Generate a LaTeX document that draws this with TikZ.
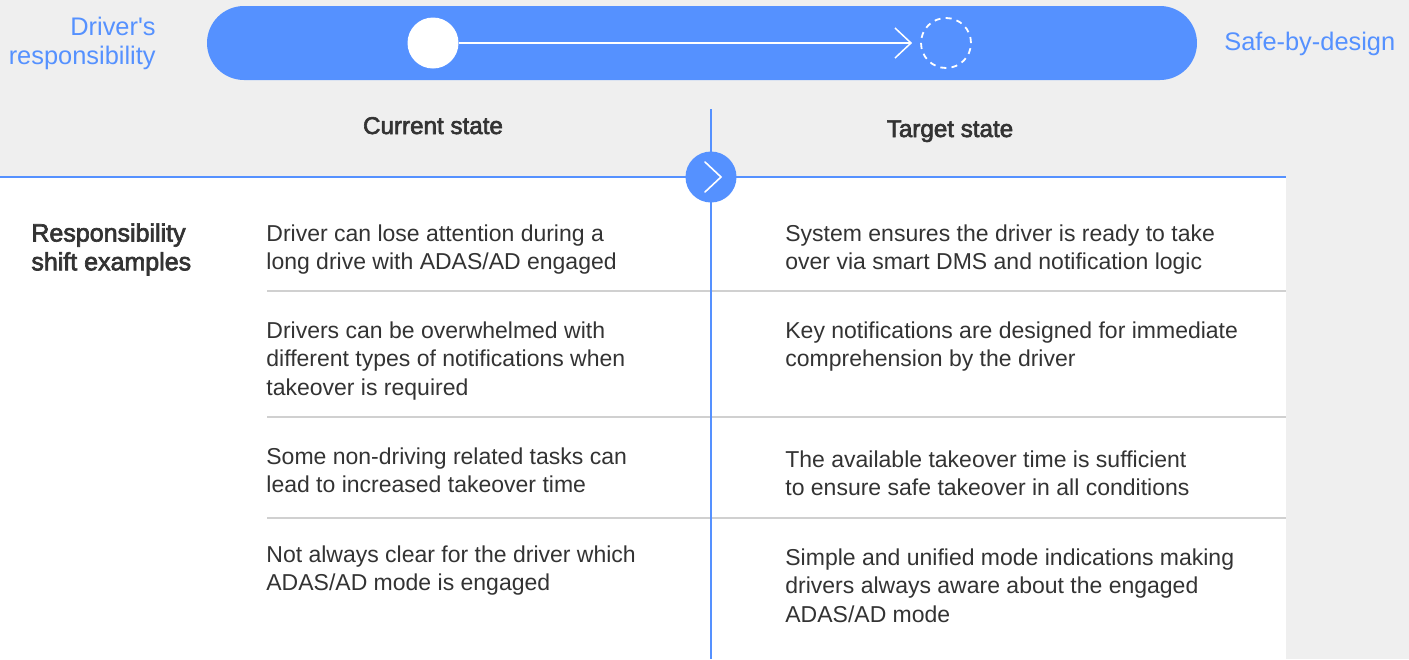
\documentclass[tikz,border=0pt]{standalone}
\usepackage{fontspec}
\setmainfont{Liberation Sans}[Ligatures=TeXOff]
\newfontfamily\medfont{Liberation Sans}[FakeBold=2.6, Ligatures=TeXOff]
\usetikzlibrary{positioning, arrows.meta}

\definecolor{brand}{HTML}{5591FF}
\definecolor{pagebg}{HTML}{EFEFEF}
\definecolor{bodytext}{HTML}{333333}
\definecolor{rowrule}{HTML}{D0D0D0}

\begin{document}
\begin{tikzpicture}[
  x=0.5pt, y=-0.5pt,
  every node/.style={inner sep=0pt, text=bodytext},
  body/.style={font=\fontsize{11.5}{14.3}\selectfont, align=left, anchor=north west},
  head/.style={font=\medfont\fontsize{12.1}{14.3}\selectfont, anchor=base},
  side/.style={font=\fontsize{12.7}{14.5}\selectfont, text=brand},
  sep/.style={rowrule, line width=0.65pt},
  blueline/.style={brand, line width=0.7pt}
]

% ---------- Canvas ----------
\useasboundingbox (0,0) rectangle (1409,659);
\fill[pagebg] (0,0) rectangle (1409,659);
\fill[white] (0,177) rectangle (1286,659);

% ---------- Responsibility bar ----------
\fill[brand, rounded corners=18.5pt] (207,6) rectangle (1197,80);
\node[circle, fill=white, minimum size=25.5pt] (now) at (433,43) {};
\node[circle, draw=white, line width=0.9pt, dash pattern=on 3pt off 2.6pt,
      minimum size=25pt] (goal) at (946,43) {};
\draw[white, line width=0.75pt, -{Straight Barb[length=8pt, width=15pt]},
      shorten >=4pt] (now) -- (goal);

\node[side, align=right, anchor=north east] (driver) at (156,17) {Driver's\\responsibility};
\node[side, anchor=base west] (safe) at (1224,50) {Safe-by-design};

% ---------- Table rules ----------
\draw[sep] (267,291) -- (1286,291);
\draw[sep] (267,417) -- (1286,417);
\draw[sep] (267,518) -- (1286,518);
\draw[blueline] (0,177) -- (1286,177);
\coordinate (vtop) at (711,109);
\coordinate (vbot) at (711,659);
\draw[brand, line width=1pt] (vtop) -- (vbot);

% chevron marker where the rules cross
\node[circle, fill=brand, minimum size=25.5pt] (chev) at (711,177) {};
\draw[white, line width=0.8pt, line cap=round]
  ([shift={(-6,-15)}]chev.center) -- ([shift={(10,0)}]chev.center)
  -- ([shift={(-6,15)}]chev.center);

% ---------- Column heads ----------
\node[head] (cur) at (433,134) {Current state};
\node[head] (tgt) at (950,137) {Target state};
\node[body, font=\medfont\fontsize{12.5}{14.4}\selectfont] (resp) at (31,223)
  {Responsibility\\shift examples};

% ---------- Current state ----------
\node[body] (cur1) at (266,224) {Driver can lose attention during a\\long drive with ADAS/AD engaged};
\node[body] (cur2) at (266,321) {Drivers can be overwhelmed with\\different types of notifications when\\takeover is required};
\node[body] (cur3) at (266,447) {Some non-driving related tasks can\\lead to increased takeover time};
\node[body] (cur4) at (266,545) {Not always clear for the driver which\\ADAS/AD mode is engaged};

% ---------- Target state ----------
\node[body] (tgt1) at (785,224) {System ensures the driver is ready to take\\over via smart DMS and notification logic};
\node[body] (tgt2) at (785,321) {Key notifications are designed for immediate\\comprehension by the driver};
\node[body] (tgt3) at (785,450) {The available takeover time is sufficient\\to ensure safe takeover in all conditions};
\node[body] (tgt4) at (785,548) {Simple and unified mode indications making\\drivers always aware about the engaged\\ADAS/AD mode};

\end{tikzpicture}
\end{document}
